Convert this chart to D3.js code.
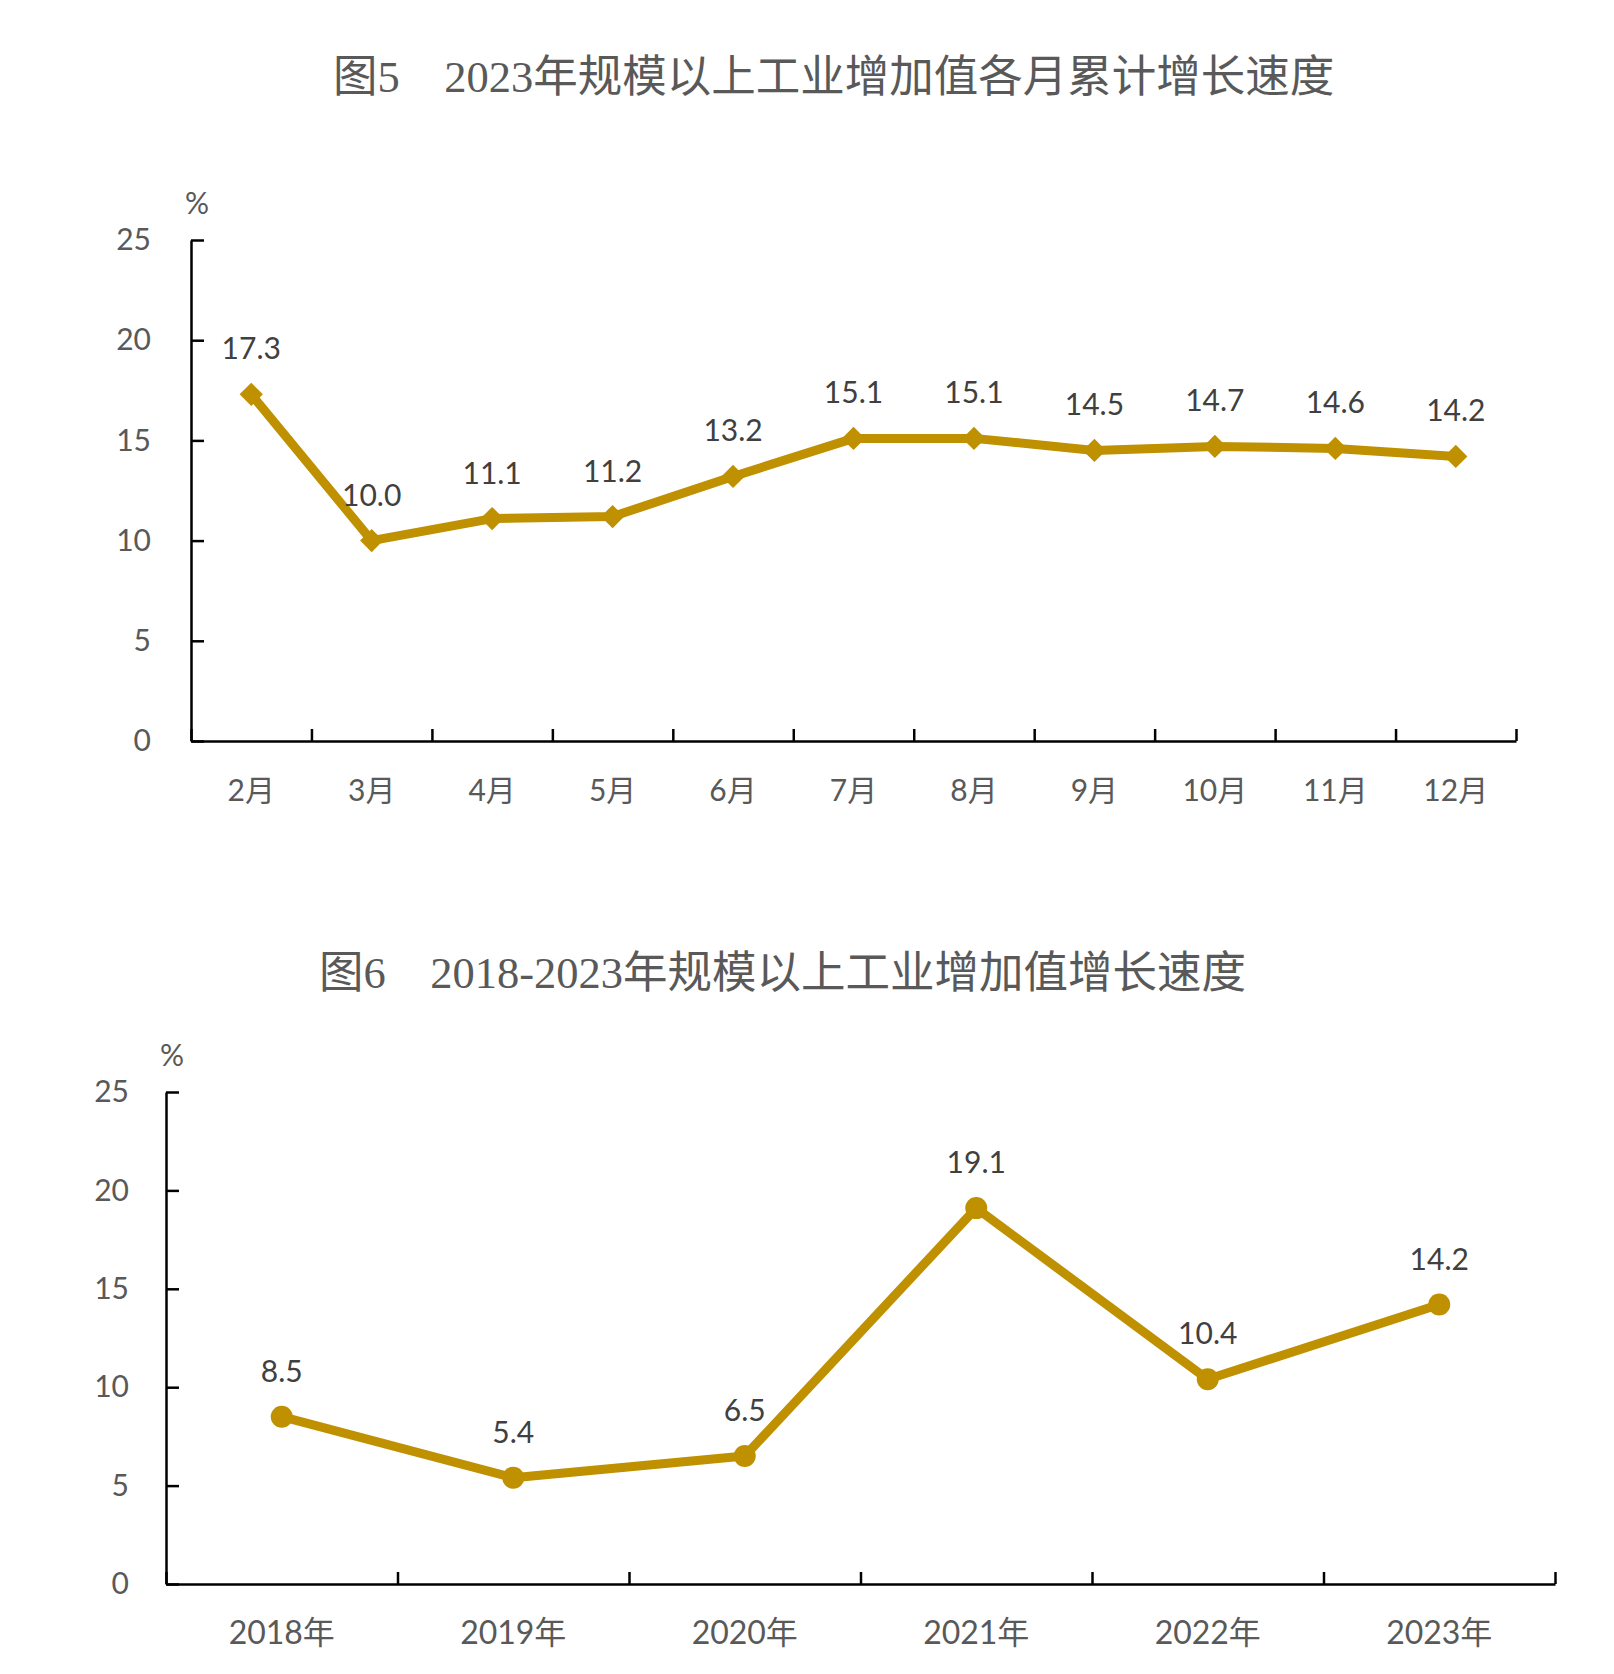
<!DOCTYPE html>
<html>
<head>
<meta charset="utf-8">
<script src="https://cdn.jsdelivr.net/npm/d3@7"></script>
<style>
  body { margin: 0; background: #fff; }
  .tick text { fill: #595959; }
</style>
</head>
<body>
<svg id="chart" width="1614" height="1674"></svg>
<script>
// Chart 5: monthly cumulative growth, 2023
const months = ["2月", "3月", "4月", "5月", "6月", "7月", "8月", "9月", "10月", "11月", "12月"];
const monthValues = [17.3, 10.0, 11.1, 11.2, 13.2, 15.1, 15.1, 14.5, 14.7, 14.6, 14.2];

// Chart 6: yearly growth, 2018-2023
const years = ["2018年", "2019年", "2020年", "2021年", "2022年", "2023年"];
const yearValues = [8.5, 5.4, 6.5, 19.1, 10.4, 14.2];

const yTicks = [0, 5, 10, 15, 20, 25];
const title5 = "图5　2023年规模以上工业增加值各月累计增长速度";
const title6 = "图6　2018-2023年规模以上工业增加值增长速度";

const gold = "#BF9000";
const labelFont = "Lato, 'Noto Sans CJK SC', sans-serif";
const titleFont = "'Liberation Serif', 'Noto Sans CJK SC', serif";

var svg = d3.select("#chart");
svg.append("rect").attr("width", 1614).attr("height", 1674).attr("fill", "#fff");

function drawChart(opts) {
    const g = svg.append("g");
    const cats = opts.cats, vals = opts.vals;

    const x = d3.scaleBand().domain(cats).range([opts.x0, opts.x1]);
    const y = d3.scaleLinear().domain([0, 25]).range([opts.yb, opts.yt]);
    const xi = d3.scaleLinear().domain([0, cats.length]).range([opts.x0, opts.x1]);

    // title
    g.append("text")
        .attr("x", opts.titleX)
        .attr("y", opts.titleY)
        .attr("dominant-baseline", "central")
        .attr("font-family", titleFont)
        .attr("font-size", 44.5)
        .attr("fill", "#595959")
        .text(opts.title);

    // unit
    g.append("text")
        .attr("x", opts.x0 + 6)
        .attr("y", opts.yt - 38)
        .attr("text-anchor", "middle")
        .attr("dominant-baseline", "central")
        .attr("font-family", labelFont)
        .attr("font-size", 30)
        .attr("fill", "#595959")
        .text("%");

    // y axis, ticks pointing inside
    const yAxis = g.append("g")
        .attr("transform", "translate(" + opts.x0 + ",0)")
        .call(d3.axisLeft(y).tickValues(yTicks).tickSize(-13).tickSizeOuter(0).tickPadding(opts.yPad));
    yAxis.selectAll("text").attr("font-family", labelFont).attr("font-size", 30);

    // x axis: labels at band centres
    const xAxis = g.append("g")
        .attr("transform", "translate(0," + opts.yb + ")")
        .call(d3.axisBottom(x).tickSize(0).tickSizeOuter(0));
    xAxis.selectAll("text")
        .attr("y", 49)
        .attr("dy", "0.35em")
        .attr("font-family", labelFont)
        .attr("font-size", opts.xFont);
    xAxis.select(".domain").remove();

    // x axis: boundary ticks pointing up
    g.append("g")
        .attr("transform", "translate(0," + opts.yb + ")")
        .call(d3.axisBottom(xi).ticks(cats.length).tickSize(-12).tickSizeOuter(0).tickFormat(""));

    g.selectAll(".domain, .tick line").attr("stroke", "#000").attr("stroke-width", 2.5);

    // line
    g.append("path")
        .datum(vals)
        .attr("fill", "none")
        .attr("stroke", gold)
        .attr("stroke-width", 9)
        .attr("stroke-linejoin", "round")
        .attr("d", d3.line()
            .x(function (d, i) { return x(cats[i]) + x.bandwidth() / 2; })
            .y(function (d) { return y(d); }));

    // markers
    g.selectAll(".marker")
        .data(vals)
        .join("path")
        .attr("class", "marker")
        .attr("fill", gold)
        .attr("transform", function (d, i) {
            return "translate(" + (x(cats[i]) + x.bandwidth() / 2) + "," + y(d) + ")" + (opts.diamond ? " rotate(45)" : "");
        })
        .attr("d", d3.symbol().type(opts.diamond ? d3.symbolSquare : d3.symbolCircle).size(opts.diamond ? 270 : 380));

    // value labels
    g.selectAll(".val")
        .data(vals)
        .join("text")
        .attr("class", "val")
        .attr("x", function (d, i) { return x(cats[i]) + x.bandwidth() / 2; })
        .attr("y", function (d) { return y(d) - 47; })
        .attr("text-anchor", "middle")
        .attr("dominant-baseline", "central")
        .attr("font-family", labelFont)
        .attr("font-size", 30)
        .attr("fill", "#404040")
        .text(function (d) { return d.toFixed(1); });
}

drawChart({
    cats: months, vals: monthValues, title: title5,
    titleX: 333, titleY: 77,
    x0: 191, x1: 1516, yt: 240, yb: 741, yPad: 40, xFont: 30, diamond: true
});

drawChart({
    cats: years, vals: yearValues, title: title6,
    titleX: 319, titleY: 973,
    x0: 166, x1: 1555, yt: 1092, yb: 1584, yPad: 37, xFont: 32, diamond: false
});
</script>
</body>
</html>
